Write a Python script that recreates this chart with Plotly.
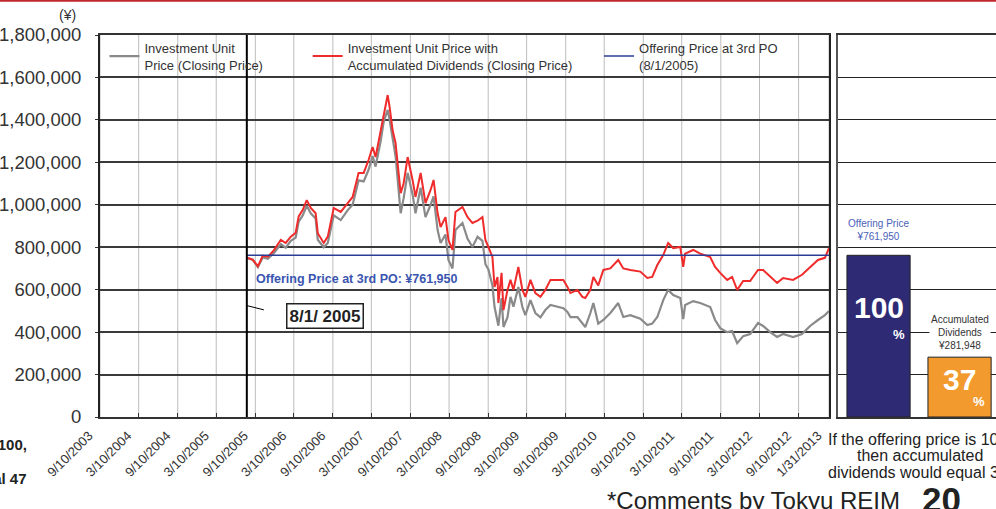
import plotly.graph_objects as go
import pandas as pd

# --- data ---
dates = [
    "2005-08-01", "2005-08-29", "2005-09-22", "2005-10-15", "2005-11-08", "2005-12-06",
    "2006-01-08", "2006-01-31", "2006-02-24", "2006-03-19", "2006-04-02", "2006-04-21",
    "2006-05-10", "2006-05-29", "2006-06-21", "2006-07-01", "2006-07-29", "2006-08-17",
    "2006-09-14", "2006-10-17", "2006-11-19", "2006-12-12", "2007-01-09", "2007-02-02",
    "2007-02-25", "2007-03-16", "2007-03-30", "2007-04-23", "2007-05-07", "2007-05-26",
    "2007-06-04", "2007-06-18", "2007-07-02", "2007-07-12", "2007-07-26", "2007-08-09",
    "2007-08-28", "2007-09-20", "2007-10-04", "2007-10-28", "2007-11-20", "2007-12-14",
    "2007-12-28", "2008-01-16", "2008-01-30", "2008-02-22", "2008-03-07", "2008-03-26",
    "2008-04-09", "2008-05-12", "2008-06-05", "2008-06-28", "2008-07-22", "2008-08-14",
    "2008-08-28", "2008-09-11", "2008-09-30", "2008-10-10", "2008-10-24", "2008-10-28",
    "2008-11-12", "2008-11-21", "2008-12-10", "2008-12-24", "2009-01-07", "2009-01-30",
    "2009-02-18", "2009-03-04", "2009-03-28", "2009-04-20", "2009-05-14", "2009-06-06",
    "2009-06-30", "2009-08-02", "2009-08-30", "2009-09-18", "2009-10-02", "2009-11-04",
    "2009-11-27", "2009-12-11", "2010-01-04", "2010-01-18", "2010-02-10", "2010-03-06",
    "2010-04-08", "2010-05-15", "2010-06-08", "2010-07-11", "2010-08-27", "2010-09-29",
    "2010-10-22", "2010-11-15", "2010-12-13", "2011-01-05", "2011-01-29", "2011-03-03",
    "2011-03-17", "2011-03-26", "2011-05-03", "2011-06-05", "2011-07-22", "2011-08-14",
    "2011-09-07", "2011-10-10", "2011-11-02", "2011-11-26", "2011-12-24", "2012-01-26",
    "2012-03-03", "2012-03-27", "2012-04-29", "2012-06-01", "2012-06-29", "2012-08-15",
    "2012-09-26", "2012-11-03", "2012-12-10", "2013-01-12", "2013-01-31",
]

# Investment unit price (closing), yen
unit_price = [
    750000, 740000, 706000, 752000, 745000, 772000,
    815000, 798000, 830000, 845000, 920000, 950000,
    995000, 960000, 935000, 835000, 800000, 820000,
    950000, 928000, 975000, 1000000, 1115000, 1110000,
    1165000, 1230000, 1180000, 1300000, 1390000, 1447000,
    1400000, 1305000, 1230000, 1120000, 960000, 1030000,
    1150000, 1050000, 960000, 1080000, 942000, 1000000,
    1040000, 881000, 820000, 860000, 740000, 700000,
    881000, 914000, 840000, 801000, 849000, 830000,
    720000, 695000, 620000, 518000, 450000, 430000,
    560000, 424000, 470000, 566000, 520000, 613000,
    518000, 480000, 551000, 490000, 470000, 504000,
    528000, 518000, 513000, 495000, 471000, 471000,
    443000, 424000, 490000, 537000, 440000, 457000,
    490000, 537000, 471000, 480000, 463000, 433000,
    440000, 471000, 551000, 599000, 575000, 561000,
    461000, 528000, 546000, 537000, 518000, 457000,
    419000, 400000, 405000, 348000, 381000, 391000,
    443000, 429000, 400000, 377000, 391000, 377000,
    391000, 429000, 457000, 480000, 500000,
]

# Investment unit price with accumulated dividends (closing), yen
price_with_div = [
    750000, 742000, 710000, 760000, 755000, 785000,
    835000, 820000, 850000, 868000, 945000, 975000,
    1022000, 985000, 960000, 866000, 820000, 850000,
    985000, 966000, 1008000, 1037000, 1150000, 1150000,
    1211000, 1272000, 1225000, 1352000, 1433000, 1517000,
    1461000, 1352000, 1291000, 1178000, 1055000, 1100000,
    1225000, 1117000, 1037000, 1150000, 1008000, 1070000,
    1117000, 960000, 895000, 942000, 834000, 787000,
    966000, 990000, 942000, 914000, 925000, 942000,
    834000, 801000, 754000, 613000, 660000, 537000,
    679000, 504000, 599000, 646000, 599000, 707000,
    599000, 566000, 646000, 584000, 566000, 599000,
    646000, 646000, 646000, 613000, 584000, 599000,
    566000, 561000, 599000, 660000, 620000, 693000,
    700000, 740000, 700000, 693000, 685000, 655000,
    660000, 716000, 763000, 820000, 796000, 801000,
    707000, 770000, 787000, 770000, 754000, 707000,
    679000, 646000, 660000, 599000, 641000, 641000,
    693000, 693000, 660000, 632000, 655000, 646000,
    670000, 707000, 740000, 750000, 796000,
]

offering_date = "2005-08-01"
offering_price = 761950
accumulated_dividends = 281948

tick_labels = [
    "9/10/2003", "3/10/2004", "9/10/2004", "3/10/2005", "9/10/2005", "3/10/2006",
    "9/10/2006", "3/10/2007", "9/10/2007", "3/10/2008", "9/10/2008", "3/10/2009",
    "9/10/2009", "3/10/2010", "9/10/2010", "3/10/2011", "9/10/2011", "3/10/2012",
    "9/10/2012", "1/31/2013",
]
tick_vals = pd.to_datetime(tick_labels, format="%m/%d/%Y")

bar_names = ["Offering Price", "Accumulated Dividends"]
bar_values = [offering_price, accumulated_dividends]

FONT = "Liberation Sans, Arial, sans-serif"
TXT = "#333333"
NB = "\u00a0"  # padding so legend entries sit where the original ones do

fig = go.Figure()

fig.add_trace(go.Scatter(
    x=dates, y=unit_price, mode="lines",
    name="Investment Unit<br>Price (Closing Price)" + NB * 11,
    line=dict(color="#8a8a8a", width=2.2),
))
fig.add_trace(go.Scatter(
    x=dates, y=price_with_div, mode="lines",
    name="Investment Unit Price with<br>Accumulated Dividends (Closing Price)" + NB * 6,
    line=dict(color="#ef2b2b", width=2),
))
fig.add_trace(go.Scatter(
    x=[offering_date, dates[-1]], y=[offering_price, offering_price], mode="lines",
    name="Offering Price at 3rd PO<br>(8/1/2005)",
    line=dict(color="#2b3d95", width=1.5),
))

# right panel: offering price vs accumulated dividends
fig.add_trace(go.Bar(
    x=bar_names, y=bar_values, xaxis="x2", yaxis="y2",
    marker=dict(color=["#2e2b74", "#f39a2e"], line=dict(color="#222222", width=1)),
    width=0.78, showlegend=False,
))

# half-year grid lines at the labelled dates
for tv in tick_vals:
    fig.add_shape(type="line", xref="x", yref="paper", x0=tv, x1=tv, y0=0, y1=1,
                  layer="below", line=dict(color="#bdbdbd", width=1))

# 8/1/2005 marker line
fig.add_shape(type="line", xref="x", yref="paper", x0=offering_date, x1=offering_date,
              y0=0, y1=1, line=dict(color="black", width=2))
# top red rule
fig.add_shape(type="line", xref="paper", yref="paper", x0=-0.2, x1=1.0,
              y0=1.0895, y1=1.0895, line=dict(color="#c0272d", width=2))
# small leader line next to the date box
fig.add_shape(type="line", xref="x", yref="y", x0=offering_date, y0=525000,
              x1="2005-10-20", y1=505000, line=dict(color="black", width=1))

pct = round(accumulated_dividends / offering_price * 100)


def note(text, x, y, size, color="#222222", **kw):
    d = dict(text=text, xref="paper", yref="paper", x=x, y=y, xanchor="center",
             yanchor="middle", showarrow=False, font=dict(size=size, color=color))
    d.update(kw)
    return d


annotations = [
    note("(¥)", -0.036, 1.052, 14, TXT),
    dict(text="<b>Offering Price at 3rd PO: ¥{:,}</b>".format(offering_price),
         xref="x", yref="y", x="2005-09-05", y=650000, xanchor="left", yanchor="middle",
         showarrow=False, font=dict(size=12.5, color="#3a55b0")),
    dict(text="<b>8/1/ 2005</b>", xref="x", yref="y", x="2006-08-03", y=476000,
         xanchor="center", yanchor="middle",
         showarrow=False, font=dict(size=17, color="#222222"),
         bordercolor="#222222", borderwidth=1.5, borderpad=2, bgcolor="white"),
    dict(text="Offering Price<br>¥{:,}".format(offering_price), xref="x2", yref="y2",
         x=0, y=offering_price, xanchor="center", yanchor="bottom", yshift=11,
         showarrow=False, font=dict(size=10, color="#4a62b8"), bgcolor="white"),
    dict(text="Accumulated<br>Dividends<br>¥{:,}".format(accumulated_dividends), xref="x2",
         yref="y2", x=1, y=accumulated_dividends, xanchor="center", yanchor="bottom",
         yshift=4, showarrow=False, font=dict(size=10, color=TXT), bgcolor="white"),
    dict(text="<b>100</b>", xref="x2", yref="y2", x=0, y=offering_price, xanchor="center",
         yanchor="top", yshift=-34, showarrow=False, font=dict(size=30, color="white")),
    dict(text="<b>%</b>", xref="x2", yref="y2", x=0.25, y=offering_price, xanchor="center",
         yanchor="top", yshift=-70, showarrow=False, font=dict(size=13, color="white")),
    dict(text="<b>{}</b>".format(pct), xref="x2", yref="y2", x=1, y=accumulated_dividends,
         xanchor="center", yanchor="top", yshift=-4, showarrow=False,
         font=dict(size=30, color="white")),
    dict(text="<b>%</b>", xref="x2", yref="y2", x=1.24, y=accumulated_dividends,
         xanchor="center", yanchor="top", yshift=-35, showarrow=False,
         font=dict(size=13, color="white")),
    note("If the offering price is 100,", 0.9152, -0.060, 16),
    note("then accumulated", 0.9152, -0.102, 16),
    note("dividends would equal 37.", 0.9152, -0.144, 16),
    note("<b>price is 100,</b>", -0.079, -0.073, 15, xanchor="right"),
    note("<b>would equal 47</b>", -0.079, -0.16, 15, xanchor="right"),
    note("*Comments by Tokyu REIM", 0.729, -0.218, 24),
    note("<b>20</b>", 0.939, -0.215, 35),
]

fig.update_layout(
    width=996, height=509,
    margin=dict(l=100, r=0, t=35, b=92),
    paper_bgcolor="white", plot_bgcolor="white",
    font=dict(family=FONT, color=TXT),
    showlegend=True,
    legend=dict(orientation="h", x=0.005, y=1.006, xanchor="left", yanchor="top",
                bgcolor="rgba(0,0,0,0)", font=dict(size=13, color=TXT), itemwidth=30),
    xaxis=dict(
        domain=[0, 0.8136], type="date", range=["2003-09-10", "2013-01-31"],
        tickvals=tick_vals, ticktext=tick_labels,
        tickangle=-45, tickfont=dict(size=13, color=TXT),
        ticklabelshift=-11, ticklabelstandoff=4,
        showgrid=False, minor=dict(showgrid=False, ticks=""),
        ticks="inside", ticklen=4, tickcolor="#333333",
        showline=True, linecolor="#333333", linewidth=2, mirror=True, zeroline=False,
        automargin="bottom",
    ),
    yaxis=dict(
        range=[0, 1800000], dtick=200000, tickformat=",d",
        tickfont=dict(size=18.5, color=TXT),
        showgrid=True, gridcolor="#3a3a3a", gridwidth=1.5,
        ticks="outside", ticklen=3, tickcolor="#333333", ticklabelstandoff=10,
        showline=True, linecolor="#222222", linewidth=2, mirror=True, zeroline=False,
    ),
    xaxis2=dict(
        domain=[0.8237, 1.0], anchor="y2", type="category", range=[-0.5, 1.45],
        showticklabels=False, showgrid=False, ticks="",
        showline=True, linecolor="#333333", linewidth=1.5, mirror=True,
    ),
    yaxis2=dict(
        anchor="x2", range=[0, 1800000], dtick=200000, showticklabels=False,
        showgrid=True, gridcolor="#222222", gridwidth=1.2, ticks="",
        showline=True, linecolor="#555555", linewidth=1.5, zeroline=False,
    ),
    annotations=annotations,
)

# drop the browser's default body margin so the figure sits at the page corner
fig.write_html("out.html", config={"displayModeBar": False},
               post_script="document.body.style.margin='0';")
